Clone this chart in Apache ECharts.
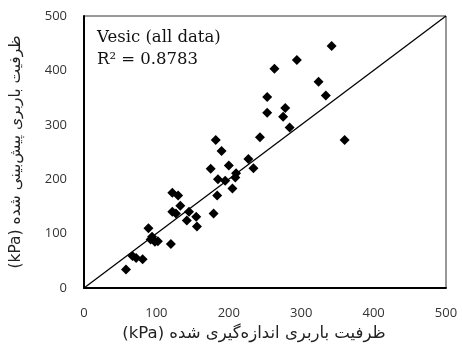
<!DOCTYPE html>
<html>
<head>
<meta charset="utf-8">
<script src="https://cdn.jsdelivr.net/npm/echarts@6/dist/echarts.min.js"></script>
<style>
  html, body { margin: 0; padding: 0; background: #fff; }
  #chart { width: 462px; height: 352px; }
</style>
</head>
<body>
<div id="chart"></div>
<script>
  const measured = [58, 67, 72, 81, 89, 92, 94, 98, 102, 120,
    122, 130, 133, 122, 127, 145, 155, 142, 156, 179,
    184, 205, 185, 195, 209, 210, 175, 200, 234, 227,
    190, 182, 243, 284, 275, 278, 253, 253, 334, 324,
    263, 294, 342, 360];
  const predicted = [34, 59, 55, 53, 110, 89, 94, 85, 86, 81,
    175, 170, 151, 140, 137, 140, 131, 124, 113, 137,
    170, 183, 200, 197, 203, 211, 219, 225, 220, 237,
    252, 272, 277, 295, 315, 331, 322, 351, 354, 379,
    403, 419, 445, 272];
  const lineX = [0, 500];
  const ticks = [0, 100, 200, 300, 400, 500];

  const xTitle = 'ظرفیت باربری اندازه‌گیری شده (kPa)';
  const yTitle = 'ظرفیت باربری پیش‌بینی شده (kPa)';
  const labelA = 'Vesic (all data)';
  const labelB = 'R² = 0.8783';

  // wrap in RTL embedding so the canvas lays the Persian titles out right-to-left
  const rtl = s => '\u202B' + s + '\u202C';

  const points = measured.map((m, i) => [m, predicted[i]]);
  const fontTick = "'Open Sans', 'DejaVu Sans', sans-serif";
  const fontName = "'DejaVu Sans', 'Noto Sans', sans-serif";
  const fontNote = "'DejaVu Serif', 'Liberation Serif', serif";

  const axisCommon = {
    type: 'value',
    min: ticks[0],
    max: ticks[ticks.length - 1],
    interval: 100,
    splitLine: { show: false },
    axisTick: { show: false },
    axisLine: { show: true, lineStyle: { color: '#000', width: 2 } },
    axisLabel: { color: '#333', fontSize: 13, fontFamily: fontTick },
    nameLocation: 'middle'
  };

  const myChart = echarts.init(document.getElementById('chart'));
  myChart.setOption({
    animation: false,
    backgroundColor: '#fff',
    grid: {
      left: 83,
      right: 16,
      top: 16,
      bottom: 64,
      show: true,
      borderColor: '#333',
      borderWidth: 1
    },
    xAxis: {
      ...axisCommon,
      name: rtl(xTitle),
      nameGap: 37,
      nameTextStyle: { color: '#222', fontSize: 16.5, fontFamily: fontName, padding: [0, 22, 0, 0] },
      axisLabel: { ...axisCommon.axisLabel, margin: 19 }
    },
    yAxis: {
      ...axisCommon,
      name: rtl(yTitle),
      nameGap: 60,
      nameTextStyle: { color: '#222', fontSize: 15.5, fontFamily: fontName },
      axisLabel: { ...axisCommon.axisLabel, margin: 17 }
    },
    graphic: [
      {
        type: 'text', left: 97, top: 29,
        style: { text: labelA, fontSize: 16.5, fontFamily: fontNote, fill: '#111' }
      },
      {
        type: 'text', left: 97, top: 51,
        style: { text: labelB, fontSize: 16.5, fontFamily: fontNote, fill: '#111' }
      }
    ],
    series: [
      {
        type: 'line',
        data: lineX.map(v => [v, v]),
        symbol: 'none',
        lineStyle: { color: '#000', width: 1.3 },
        z: 1
      },
      {
        type: 'scatter',
        data: points,
        symbol: 'diamond',
        symbolSize: [10, 10],
        itemStyle: { color: '#000', opacity: 1 },
        z: 2
      }
    ]
  });
</script>
</body>
</html>
